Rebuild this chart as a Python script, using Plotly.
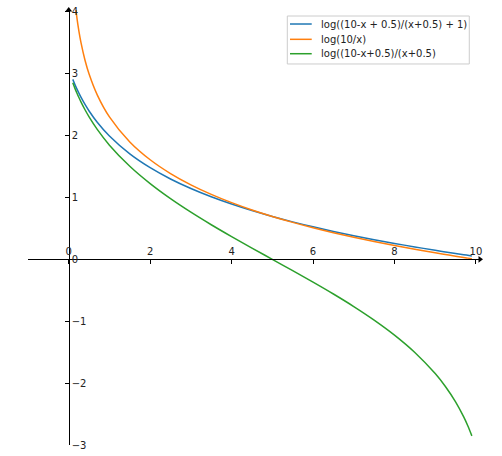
"""Three log curves on axes crossing at the origin."""

import plotly.graph_objects as go

# sample points along x
x_vals = [0.1, 0.15, 0.2, 0.25, 0.3, 0.4, 0.5, 0.7, 1.0, 1.5, 2.0, 2.5, 3.0, 3.5, 4.0,
          4.5, 5.0, 5.5, 6.0, 6.5, 7.0, 7.5, 8.0, 8.5, 9.0, 9.25, 9.5, 9.7, 9.8, 9.9]

# log((10-x + 0.5)/(x+0.5) + 1)
blue_vals = [2.9087, 2.8287, 2.7546, 2.6856, 2.6210, 2.5033, 2.3979, 2.2156, 1.9924,
             1.7048, 1.4816, 1.2993, 1.1451, 1.0116, 0.8938, 0.7885, 0.6932, 0.6061,
             0.5261, 0.4520, 0.3830, 0.3185, 0.2578, 0.2007, 0.1466, 0.1206, 0.0953,
             0.0755, 0.0658, 0.0561]

# log(10/x)
orange_vals = [4.6052, 4.1997, 3.9120, 3.6889, 3.5066, 3.2189, 2.9957, 2.6593, 2.3026,
               1.8971, 1.6094, 1.3863, 1.2040, 1.0498, 0.9163, 0.7985, 0.6931, 0.5978,
               0.5108, 0.4308, 0.3567, 0.2877, 0.2231, 0.1625, 0.1054, 0.0780, 0.0513,
               0.0305, 0.0202, 0.0101]

# log((10-x+0.5)/(x+0.5))
green_vals = [2.8526, 2.7678, 2.6888, 2.6150, 2.5455, 2.4179, 2.3026, 2.1001, 1.8458,
              1.5041, 1.2238, 0.9808, 0.7621, 0.5596, 0.3677, 0.1824, 0.0, -0.1824,
              -0.3677, -0.5596, -0.7621, -0.9808, -1.2238, -1.5041, -1.8458, -2.0542,
              -2.3026, -2.5455, -2.6888, -2.8526]

series_names = ["log((10-x + 0.5)/(x+0.5) + 1)", "log(10/x)", "log((10-x+0.5)/(x+0.5)"]
series_colors = ["#1f77b4", "#ff7f0e", "#2ca02c"]

x_ticks = [0, 2, 4, 6, 8, 10]
y_ticks = [-3, -2, -1, 0, 1, 2, 3, 4]

X_RANGE = [-1.0, 10.1]
Y_RANGE = [-3.0, 4.03]

FONT = "DejaVu Sans"
TEXT_COLOR = "#222222"

fig = go.Figure()
for name, color, ys in zip(series_names, series_colors, [blue_vals, orange_vals, green_vals]):
    fig.add_trace(
        go.Scatter(
            x=x_vals,
            y=ys,
            mode="lines",
            name=name,
            line=dict(color=color, width=1.5, shape="spline"),
            showlegend=False,
        )
    )

# arrow heads at the ends of the spines
fig.add_trace(
    go.Scatter(
        x=[X_RANGE[1]],
        y=[0],
        mode="markers",
        marker=dict(symbol="triangle-right", size=6, color="black"),
        showlegend=False,
        cliponaxis=False,
        hoverinfo="skip",
    )
)
fig.add_trace(
    go.Scatter(
        x=[0],
        y=[Y_RANGE[1]],
        mode="markers",
        marker=dict(symbol="triangle-up", size=6, color="black"),
        showlegend=False,
        cliponaxis=False,
        hoverinfo="skip",
    )
)

# matplotlib-like legend box drawn by hand (plotly rows are too tall)
fig.add_shape(
    type="rect", xref="paper", yref="paper",
    x0=0.5737, x1=0.9763, y0=0.8759, y1=0.9862,
    line=dict(color="#cccccc", width=1), fillcolor="rgba(255,255,255,0.8)",
    layer="above",
)
row_y = [0.9678, 0.9326, 0.8995]
for name, color, yy in zip(series_names, series_colors, row_y):
    fig.add_shape(
        type="line", xref="paper", yref="paper",
        x0=0.5796, x1=0.6277, y0=yy, y1=yy,
        line=dict(color=color, width=1.5), layer="above",
    )
    fig.add_annotation(
        text=name, xref="paper", yref="paper", x=0.6445, y=yy,
        xanchor="left", yanchor="middle", showarrow=False,
        font=dict(family=FONT, size=10, color=TEXT_COLOR),
    )

x_pos = (0 - X_RANGE[0]) / (X_RANGE[1] - X_RANGE[0])
y_pos = (0 - Y_RANGE[0]) / (Y_RANGE[1] - Y_RANGE[0])

axis_common = dict(
    showgrid=False,
    zeroline=False,
    showline=True,
    linecolor="black",
    linewidth=1,
    ticks="inside",
    ticklen=4,
    tickwidth=1,
    tickcolor="black",
    tickfont=dict(family=FONT, size=10, color=TEXT_COLOR),
    anchor="free",
    automargin=False,
)

fig.update_layout(
    width=502,
    height=456,
    margin=dict(l=28, r=22, t=10, b=11),
    paper_bgcolor="white",
    plot_bgcolor="white",
    font=dict(family=FONT, size=10, color=TEXT_COLOR),
    xaxis=dict(
        range=X_RANGE,
        tickvals=x_ticks,
        side="top",
        position=y_pos,
        **axis_common,
    ),
    yaxis=dict(
        range=Y_RANGE,
        tickvals=y_ticks,
        side="right",
        position=x_pos,
        **axis_common,
    ),
    showlegend=False,
)

# drop the default 8px page margin so the figure sits at the window corner
fig.write_html(
    "out.html",
    config={"displayModeBar": False},
    post_script="document.body.style.margin='0';",
)
